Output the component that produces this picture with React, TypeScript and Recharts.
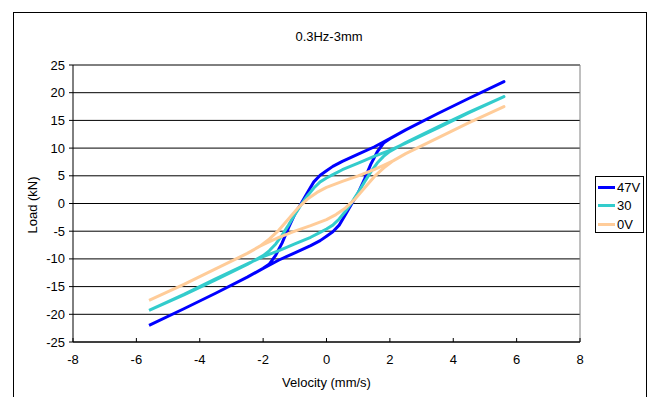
import { LineChart, Line, XAxis, YAxis, CartesianGrid, ReferenceLine } from "recharts";

const blueLower = [
  [-5.6, -22.0], [-4.5, -19.0], [-3.5, -16.2], [-2.5, -13.3], [-2.0, -11.7], [-1.5, -10.2],
  [-1.0, -8.9], [-0.5, -7.6], [-0.2, -6.7], [0.0, -5.9], [0.2, -5.1], [0.4, -3.9], [0.6, -2.0],
  [0.8, 0.0], [1.0, 1.9], [1.2, 4.4], [1.4, 7.1], [1.6, 9.3], [1.8, 10.9], [2.0, 11.7],
  [2.5, 13.3], [3.5, 16.2], [4.5, 19.0], [5.6, 22.0],
];
const blueUpper = [
  [5.6, 22.0], [4.5, 19.0], [3.5, 16.2], [2.5, 13.3], [2.0, 11.7], [1.5, 10.2], [1.0, 8.9],
  [0.5, 7.6], [0.2, 6.7], [0.0, 5.9], [-0.2, 5.1], [-0.4, 3.9], [-0.6, 2.0], [-0.8, 0.0],
  [-1.0, -1.9], [-1.2, -4.4], [-1.4, -7.1], [-1.6, -9.3], [-1.8, -10.9], [-2.0, -11.7],
  [-2.5, -13.3], [-3.5, -16.2], [-4.5, -19.0], [-5.6, -22.0],
];
const cyanLower = [
  [-5.6, -19.3], [-4.5, -16.4], [-3.5, -13.6], [-2.5, -10.9], [-2.0, -9.6], [-1.5, -8.5],
  [-1.0, -7.3], [-0.5, -6.1], [-0.2, -5.2], [0.0, -4.6], [0.2, -3.9], [0.4, -2.8], [0.6, -1.4],
  [0.8, 0.2], [1.0, 2.0], [1.2, 3.9], [1.4, 5.7], [1.6, 7.3], [1.8, 8.5], [2.0, 9.4],
  [2.5, 11.0], [3.5, 13.8], [4.5, 16.5], [5.6, 19.3],
];
const cyanUpper = [
  [5.6, 19.3], [4.5, 16.4], [3.5, 13.6], [2.5, 10.9], [2.0, 9.6], [1.5, 8.5], [1.0, 7.3],
  [0.5, 6.1], [0.2, 5.2], [0.0, 4.6], [-0.2, 3.9], [-0.4, 2.8], [-0.6, 1.4], [-0.8, -0.2],
  [-1.0, -2.0], [-1.2, -3.9], [-1.4, -5.7], [-1.6, -7.3], [-1.8, -8.5], [-2.0, -9.4],
  [-2.5, -11.0], [-3.5, -13.8], [-4.5, -16.5], [-5.6, -19.3],
];
const tanLower = [
  [-5.6, -17.5], [-4.5, -14.6], [-3.5, -11.8], [-2.5, -9.0], [-2.1, -7.7], [-1.8, -6.9],
  [-1.5, -6.1], [-1.0, -5.0], [-0.5, -4.0], [0.0, -2.9], [0.3, -2.0], [0.6, -0.8], [0.9, 0.8],
  [1.2, 2.8], [1.5, 4.8], [1.8, 6.4], [2.1, 7.7], [2.5, 9.0], [3.5, 11.8], [4.5, 14.6],
  [5.6, 17.5],
];
const tanUpper = [
  [5.6, 17.5], [4.5, 14.6], [3.5, 11.8], [2.5, 9.0], [2.1, 7.7], [1.8, 6.9], [1.5, 6.1],
  [1.0, 5.0], [0.5, 4.0], [0.0, 2.9], [-0.3, 2.0], [-0.6, 0.8], [-0.9, -0.8], [-1.2, -2.8],
  [-1.5, -4.8], [-1.8, -6.4], [-2.1, -7.7], [-2.5, -9.0], [-3.5, -11.8], [-4.5, -14.6],
  [-5.6, -17.5],
];

const seriesNames = ["47V", "30", "0V"];
const seriesColors = ["#0000ff", "#33cccc", "#ffcc99"];
const xTicks = [-8, -6, -4, -2, 0, 2, 4, 6, 8];
const yTicks = [-25, -20, -15, -10, -5, 0, 5, 10, 15, 20, 25];

const toPoints = (lower: number[][], upper: number[][]) =>
  [...lower, ...upper].map(([x, y]) => ({ x, y }));

const loops = [
  toPoints(blueLower, blueUpper),
  toPoints(cyanLower, cyanUpper),
  toPoints(tanLower, tanUpper),
];

const font = "'Liberation Sans', Arial, sans-serif";

function XTick({ x, y, payload }: any) {
  return (
    <g>
      <line x1={x} x2={x} y1={y} y2={y - 4} stroke="#000" />
      <text x={x} y={y + 22} textAnchor="middle" fontSize={13} fill="#000" fontFamily={font}>
        {payload.value}
      </text>
    </g>
  );
}

function YTick({ x, y, payload }: any) {
  return (
    <g>
      <line x1={x - 4} x2={x} y1={y} y2={y} stroke="#000" />
      <text x={x - 8} y={y + 4.5} textAnchor="end" fontSize={13} fill="#000" fontFamily={font}>
        {payload.value}
      </text>
    </g>
  );
}

export default function App() {
  return (
    <div style={{ position: "absolute", left: 0, top: 0, width: 649, height: 397, overflow: "hidden", background: "#fff", fontFamily: font }}>
      <div
        style={{
          position: "absolute",
          left: 13,
          top: 12,
          width: 634,
          height: 400,
          border: "1px solid #000",
          boxSizing: "border-box",
        }}
      />
      <div style={{ position: "absolute", left: 0, width: 658, top: 29, textAlign: "center", fontSize: 13 }}>
        0.3Hz-3mm
      </div>
      <div
        style={{
          position: "absolute",
          left: 32,
          top: 205,
          transform: "translate(-50%, -50%) rotate(-90deg)",
          fontSize: 13,
          whiteSpace: "nowrap",
        }}
      >
        Load (kN)
      </div>
      <div style={{ position: "absolute", left: 73, width: 507, top: 375, textAlign: "center", fontSize: 13 }}>
        Velocity (mm/s)
      </div>
      <div style={{ position: "absolute", left: 0, top: 0 }}>
        <LineChart width={649} height={397} margin={{ top: 65, right: 69, left: 33, bottom: 25 }}>
          <CartesianGrid vertical={false} stroke="#000" />
          <XAxis
            type="number"
            dataKey="x"
            domain={[-8, 8]}
            ticks={xTicks}
            allowDataOverflow
            height={30}
            tickSize={0}
            tickMargin={0}
            tickLine={false}
            tick={<XTick />}
            stroke="#000"
          />
          <YAxis
            type="number"
            dataKey="y"
            domain={[-25, 25]}
            ticks={yTicks}
            allowDataOverflow
            width={40}
            tickSize={0}
            tickMargin={0}
            tickLine={false}
            tick={<YTick />}
            stroke="#000"
          />
          <ReferenceLine y={25} stroke="#808080" />
          <ReferenceLine x={8} stroke="#808080" />
          {loops.map((pts, i) => (
            <Line
              key={seriesNames[i]}
              data={pts}
              dataKey="y"
              type="linear"
              stroke={seriesColors[i]}
              strokeWidth={3}
              strokeLinejoin="round"
              dot={false}
              isAnimationActive={false}
            />
          ))}
        </LineChart>
      </div>
      <div
        style={{
          position: "absolute",
          left: 595,
          top: 176,
          width: 49,
          height: 57,
          border: "1px solid #000",
          boxSizing: "border-box",
          fontSize: 13,
        }}
      >
        {seriesNames.map((name, i) => (
          <div key={name} style={{ position: "absolute", left: 2, top: 2 + i * 18.5, height: 16, display: "flex", alignItems: "center" }}>
            <span style={{ display: "inline-block", width: 17, height: 3, background: seriesColors[i], marginRight: 2 }} />
            <span>{name}</span>
          </div>
        ))}
      </div>
    </div>
  );
}
